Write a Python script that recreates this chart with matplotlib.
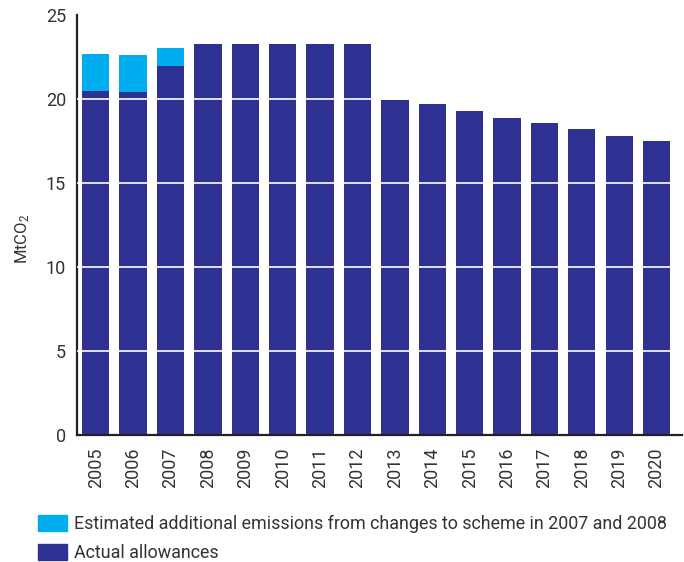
import matplotlib
matplotlib.use("Agg")
from matplotlib import pyplot as plt
from matplotlib.patches import Patch

years = [str(y) for y in range(2005, 2021)]
actual = [20.48, 20.42, 21.96, 23.27, 23.27, 23.27, 23.27, 23.27,
          19.94, 19.70, 19.29, 18.87, 18.57, 18.21, 17.80, 17.50]
extra = [2.20, 2.20, 1.08, 0, 0, 0, 0, 0,
         0, 0, 0, 0, 0, 0, 0, 0]

navy = "#2E3192"
cyan = "#00AEEF"
txt = "#333333"

plt.rcParams['font.family'] = ['Roboto', 'DejaVu Sans']
plt.rcParams['mathtext.fontset'] = 'custom'
plt.rcParams['mathtext.rm'] = 'Roboto'

fig = plt.figure(figsize=(6.84, 5.62), dpi=100)
ax = fig.add_axes([0.1126, 0.226, 0.884, 0.747])

x = list(range(len(years)))
ax.bar(x, actual, width=0.73, color=navy, zorder=2)
ax.bar(x, extra, width=0.73, bottom=actual, color=cyan, zorder=2)

for v in [5, 10, 15, 20]:
    ax.axhline(v, color="white", lw=1.2, zorder=3)

ax.set_ylim(0, 25)
ax.set_xlim(-0.5, 15.67)
ax.set_yticks([0, 5, 10, 15, 20, 25])
ax.set_xticks(x)
ax.set_xticklabels(years, rotation=90)
ax.tick_params(axis='both', length=0, labelsize=13, colors=txt)
ax.tick_params(axis='y', pad=8)
ax.tick_params(axis='x', pad=9)

for s in ['top', 'right']:
    ax.spines[s].set_visible(False)
for s in ['left', 'bottom']:
    ax.spines[s].set_color("#222222")
    ax.spines[s].set_linewidth(1.6)

ax.set_ylabel(r"$\mathregular{MtCO_2}$", fontsize=12, color=txt)
ax.yaxis.set_label_coords(-0.075, 0.467)

handles = [Patch(color=cyan), Patch(color=navy)]
labels = ["Estimated additional emissions from changes to scheme in 2007 and 2008",
          "Actual allowances"]
fig.legend(handles, labels, loc='upper left', bbox_to_anchor=(0.0556, 0.0836),
           frameon=False, fontsize=12.9, handlelength=1.6, handleheight=1.0,
           handletextpad=0.42, labelspacing=0.6, borderaxespad=0,
           borderpad=0, labelcolor=txt)

fig.savefig("out.png", dpi=100)
